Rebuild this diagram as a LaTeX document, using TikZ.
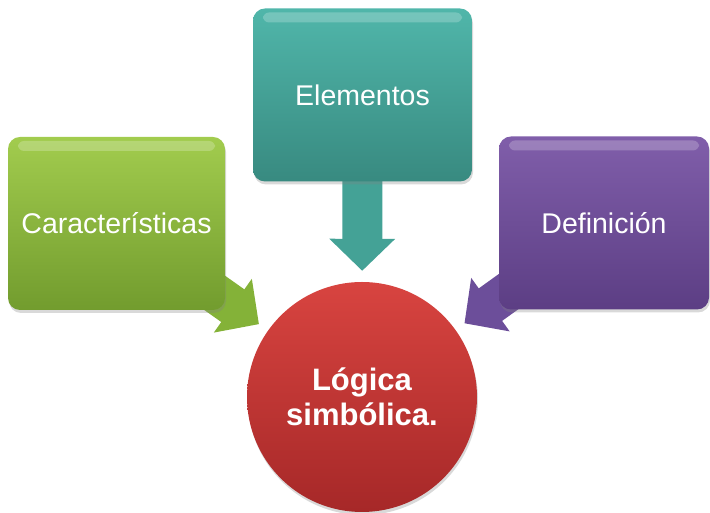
\documentclass[tikz,border=0pt]{standalone}
\usepackage{fontspec}
\setmainfont{Liberation Sans}
\usetikzlibrary{arrows.meta,backgrounds,shadows}

\definecolor{verdeA}{RGB}{162,204,78}
\definecolor{verdeB}{RGB}{114,156,46}
\definecolor{verdeF}{RGB}{132,178,56}
\definecolor{tealA}{RGB}{80,182,170}
\definecolor{tealB}{RGB}{56,138,128}
\definecolor{tealF}{RGB}{68,162,150}
\definecolor{moradoA}{RGB}{128,94,170}
\definecolor{moradoB}{RGB}{92,62,132}
\definecolor{moradoF}{RGB}{108,78,154}
\definecolor{rojoA}{RGB}{216,68,64}
\definecolor{rojoB}{RGB}{166,40,40}

\tikzset{
  caja/.style={rounded corners=12pt, minimum width=217pt, minimum height=173pt,
    inner sep=0pt, text=white, font=\fontsize{28.5}{34}\selectfont,
    drop shadow={opacity=.3, shadow xshift=1pt, shadow yshift=-3pt},
    path picture={\fill[white, opacity=.22, rounded corners=6pt]
      ([xshift=10pt,yshift=-4pt]path picture bounding box.north west) rectangle
      ([xshift=-10pt,yshift=-14pt]path picture bounding box.north east);}},
  flecha/.style={line width=40pt, -{Triangle[length=32pt,width=64pt]}, shorten >=11pt},
}

\begin{document}
\begin{tikzpicture}[x=1pt,y=1pt]
	\useasboundingbox (0,0) rectangle (710,513);
	\node[circle, minimum size=230pt, inner sep=0pt, top color=rojoA, bottom color=rojoB,
		text=white, align=center, font=\bfseries\fontsize{31}{35}\selectfont,
		drop shadow={opacity=.3, shadow xshift=1pt, shadow yshift=-3pt}] (logica) at (362,116) {Lógica\\simbólica.};
	\node[caja, top color=verdeA, bottom color=verdeB] (carac) at (116.5,289.5) {Características};
	\node[caja, top color=tealA, bottom color=tealB, minimum width=219pt] (elem) at (362.5,418) {Elementos};
	\node[caja, top color=moradoA, bottom color=moradoB, minimum width=210pt] (defin) at (604,290) {Definición};
	\begin{pgfonlayer}{background}
		\draw[flecha, verdeF] (carac.center) -- (logica);
		\draw[flecha, tealF] (elem.center) -- (logica);
		\draw[flecha, moradoF] (defin.center) -- (logica);
	\end{pgfonlayer}
\end{tikzpicture}
\end{document}
